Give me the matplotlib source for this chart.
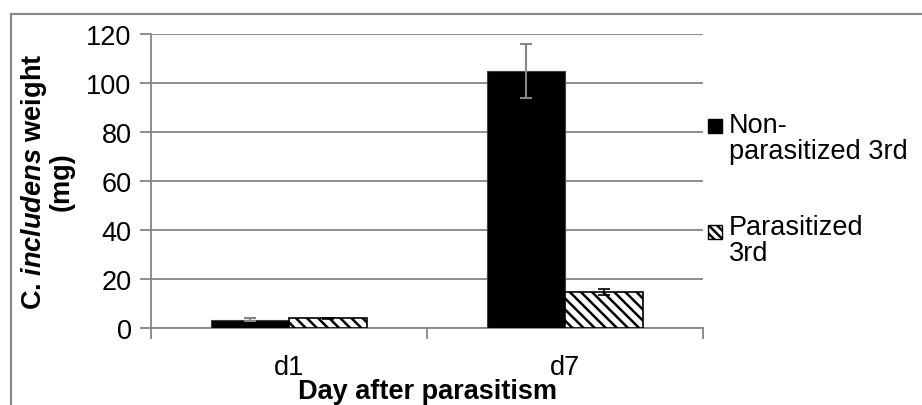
import numpy as np
import matplotlib
matplotlib.use("Agg")
import matplotlib.pyplot as plt
from matplotlib.patches import Rectangle
from matplotlib.lines import Line2D

plt.rcParams["font.family"] = "Liberation Sans"
plt.rcParams["mathtext.fontset"] = "custom"
plt.rcParams["mathtext.it"] = "Liberation Sans:italic:bold"
plt.rcParams["hatch.linewidth"] = 1.8

categories = ["d1", "d7"]
non_para = [3.4, 105.0]
non_para_err = [0.5, 11.0]
para = [3.9, 14.8]
para_err = [0.3, 1.2]
series_labels = ["Non-\nparasitized 3rd", "Parasitized\n3rd"]

grey = "#868686"
fs = 19.5

fig = plt.figure(figsize=(9.22, 4.06), dpi=100)
ax = fig.add_axes([151 / 922, 77 / 406, 552 / 922, 294 / 406])

x = np.arange(len(categories))
w = 0.283
ax.bar(x - w / 2, non_para, w, color="black", edgecolor="#404040", linewidth=0.8, zorder=3)
ax.bar(x + w / 2, para, w, color="white", edgecolor="black", hatch="\\\\\\",
       linewidth=1.2, zorder=3)
ax.errorbar(x - w / 2, non_para, yerr=non_para_err, fmt="none", ecolor=grey,
            elinewidth=1.5, capsize=4.5, capthick=1.5, zorder=4)
ax.errorbar(x + w / 2, para, yerr=para_err, fmt="none", ecolor="black",
            elinewidth=1.2, capsize=4.5, capthick=1.2, zorder=4)

ax.set_xlim(-0.5, 1.5)
ax.set_ylim(0, 120)
ax.set_yticks(np.arange(0, 121, 20))
ax.yaxis.grid(True, color=grey, linewidth=1.3, zorder=0)
ax.set_axisbelow(True)

# category labels sit between the boundary ticks
ax.set_xticks([-0.5, 0.5, 1.5])
ax.set_xticklabels([])
ax.set_xticks(x, minor=True)
ax.set_xticklabels(categories, minor=True, fontsize=fs)
ax.tick_params(axis="x", which="minor", length=0, pad=19)
ax.tick_params(axis="x", which="major", length=8, width=1.3, color=grey)
ax.tick_params(axis="y", length=8, width=1.3, color=grey, labelsize=fs, pad=6)

for side in ["top", "right"]:
    ax.spines[side].set_visible(False)
for side in ["left", "bottom"]:
    ax.spines[side].set_color(grey)
    ax.spines[side].set_linewidth(1.3)

ax.set_xlabel("Day after parasitism", fontsize=fs, fontweight="bold", labelpad=-2)
ax.set_ylabel("C. $\\mathit{includens}$ weight\n(mg)", fontsize=fs, fontweight="bold",
              linespacing=1.0, labelpad=8)

# legend keys and text at the right
key_w = 14 / 922
key_h = 14 / 406
fig.add_artist(Rectangle((708 / 922, 1 - 134 / 406), key_w, key_h,
                         transform=fig.transFigure, facecolor="black", edgecolor="black"))
fig.add_artist(Rectangle((708 / 922, 1 - 240 / 406), key_w, key_h,
                         transform=fig.transFigure, facecolor="white", edgecolor="black",
                         hatch="\\\\\\\\", linewidth=1.0))
fig.text(729 / 922, 1 - 113 / 406, series_labels[0], fontsize=fs, va="top",
         linespacing=1.0)
fig.text(729 / 922, 1 - 215 / 406, series_labels[1], fontsize=fs, va="top",
         linespacing=1.0)

# outer chart frame
fig.add_artist(Line2D([11 / 922, 1.0], [1 - 15 / 406, 1 - 15 / 406],
                      transform=fig.transFigure, color=grey, linewidth=1.5))
fig.add_artist(Line2D([11 / 922, 11 / 922], [0, 1 - 15 / 406],
                      transform=fig.transFigure, color=grey, linewidth=1.5))

fig.savefig("out.png", dpi=100)
